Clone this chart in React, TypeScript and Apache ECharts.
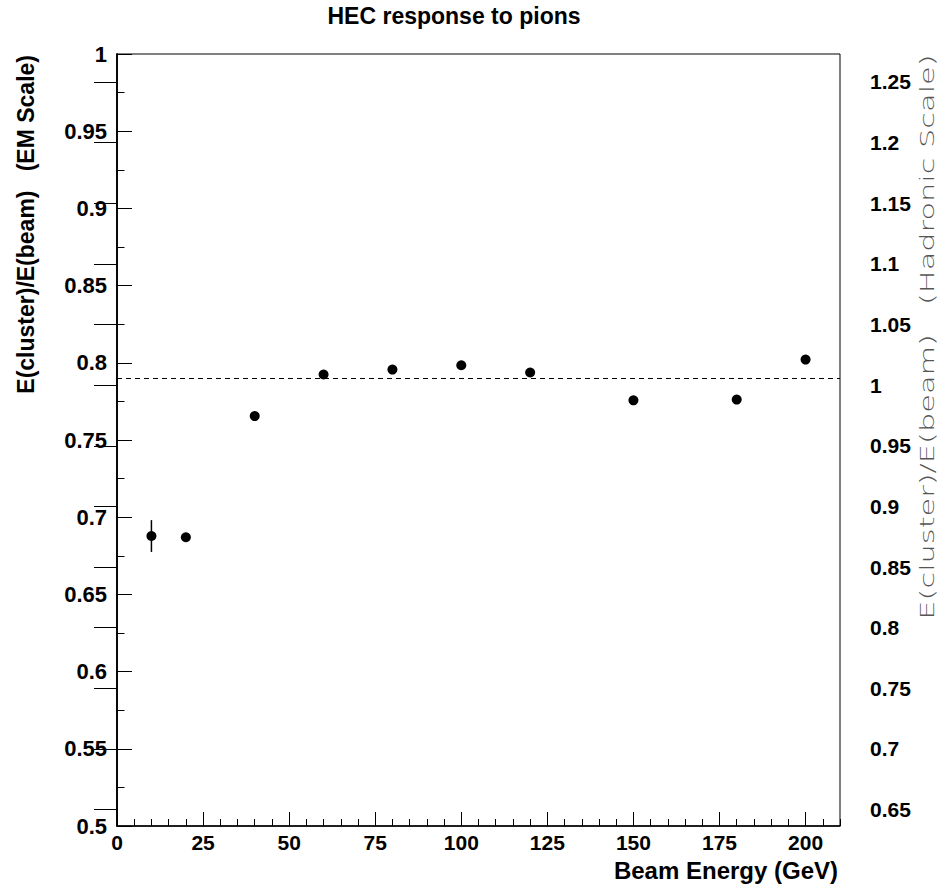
import React, { useEffect, useRef } from "react";
import * as echarts from "echarts";

const energies = [10, 20, 40, 60, 80, 100, 120, 150, 180, 200];
const response = [0.6878, 0.687, 0.7655, 0.7924, 0.7956, 0.7984, 0.7937, 0.7757, 0.7762, 0.8021];
const errors = [0.0103, 0, 0, 0, 0, 0, 0, 0, 0, 0];
const meanLevel = 0.789;
const emMin = 0.5;
const emMax = 1;
const hadronicMin = 0.6365;
const hadronicMax = 1.273;
const hadronicTicks = [0.65, 0.7, 0.75, 0.8, 0.85, 0.9, 0.95, 1, 1.05, 1.1, 1.15, 1.2, 1.25];
const xMin = 0;
const xMax = 210;

const titleText = "HEC response to pions";
const xTitle = "Beam Energy (GeV)";
const leftTitle = "E(cluster)/E(beam)   (EM Scale)";
const rightTitle = "E(cluster)/E(beam)   (Hadronic Scale)";

const FONT = "'Liberation Sans', Arial, Helvetica, sans-serif";

export default function App() {
  const ref = useRef<HTMLDivElement>(null);
  useEffect(() => {
    if (!ref.current) return;
    const chart = echarts.init(ref.current, null, { renderer: "svg" });
    const points = energies.map((x, i) => [x, response[i]]);
    const errData = energies
      .map((x, i) => [x, response[i], errors[i]])
      .filter((d) => d[2] > 0);
    chart.setOption({
      animation: false,
      backgroundColor: "#fff",
      grid: {
        left: 117,
        right: 100,
        top: 54,
        bottom: 62,
        show: true,
        borderColor: "#000",
        borderWidth: 1,
        containLabel: false,
      },
      xAxis: [
        {
          type: "value",
          min: xMin,
          max: xMax,
          interval: 25,
          position: "bottom",
          axisLine: { show: true, lineStyle: { color: "#000", width: 1.5 } },
          axisTick: { show: true, inside: true, length: 14, lineStyle: { color: "#000", width: 1 } },
          axisLabel: {
            show: true,
            margin: 6,
            color: "#000",
            fontFamily: FONT,
            fontWeight: "bold",
            fontSize: 21,
            lineHeight: 21,
            showMaxLabel: false,
            formatter: (v: number) => (v % 25 === 0 ? String(v) : ""),
          },
          splitLine: { show: false },
        },
        {
          type: "value",
          min: xMin,
          max: xMax,
          interval: 5,
          position: "bottom",
          axisLine: { show: false },
          axisTick: { show: true, inside: true, length: 7, lineStyle: { color: "#000", width: 1 } },
          axisLabel: { show: false },
          splitLine: { show: false },
        },
      ],
      yAxis: [
        {
          type: "value",
          min: emMin,
          max: emMax,
          interval: 0.05,
          position: "left",
          axisLine: { show: true, lineStyle: { color: "#000", width: 1.5 } },
          axisTick: { show: true, inside: true, length: 15, lineStyle: { color: "#000", width: 1 } },
          minorTick: { show: true, splitNumber: 2, length: 7.5, lineStyle: { color: "#000", width: 1 } },
          axisLabel: {
            margin: 10,
            color: "#000",
            fontFamily: FONT,
            fontWeight: "bold",
            fontSize: 22,
          },
          splitLine: { show: false },
        },
        {
          type: "value",
          min: hadronicMin,
          max: hadronicMax,
          position: "right",
          axisLine: { show: true, lineStyle: { color: "#000", width: 1.5 } },
          axisTick: {
            show: true,
            inside: true,
            length: 23,
            customValues: hadronicTicks,
            lineStyle: { color: "#000", width: 1 },
          },
          axisLabel: {
            margin: 30,
            color: "#000",
            fontFamily: FONT,
            fontWeight: "bold",
            fontSize: 21,
            customValues: hadronicTicks,
            formatter: (v: number) => String(Math.round(v * 100) / 100),
          },
          splitLine: { show: false },
        },
      ],
      graphic: [
        {
          type: "text",
          x: 454,
          y: 16,
          style: {
            text: titleText,
            font: `bold 23px ${FONT}`,
            fill: "#000",
            textAlign: "center",
            textVerticalAlign: "middle",
          },
        },
        {
          type: "text",
          x: 838,
          y: 870,
          style: {
            text: xTitle,
            font: `bold 24px ${FONT}`,
            fill: "#000",
            textAlign: "right",
            textVerticalAlign: "middle",
          },
        },
        {
          type: "text",
          x: 26,
          y: 55,
          rotation: Math.PI / 2,
          style: {
            text: leftTitle,
            font: `bold 23px ${FONT}`,
            fill: "#000",
            textAlign: "right",
            textVerticalAlign: "middle",
          },
        },
        {
          type: "text",
          x: 927,
          y: 337,
          rotation: Math.PI / 2,
          scaleX: 1.52,
          style: {
            text: rightTitle,
            font: `200 20px 'DejaVu Sans ExtraLight', 'DejaVu Sans', sans-serif`,
            fill: "#555",
            textAlign: "center",
            textVerticalAlign: "middle",
          },
        },
      ],
      series: [
        {
          type: "scatter",
          xAxisIndex: 0,
          yAxisIndex: 0,
          data: points,
          symbol: "circle",
          symbolSize: 10,
          itemStyle: { color: "#000", opacity: 1 },
          markLine: {
            silent: true,
            symbol: ["none", "none"],
            label: { show: false },
            lineStyle: { color: "#000", width: 1, type: [5, 4] },
            data: [{ yAxis: meanLevel }],
          },
          z: 3,
        },
        {
          type: "custom",
          xAxisIndex: 0,
          yAxisIndex: 0,
          data: errData,
          renderItem: (params: any, api: any) => {
            const x = api.value(0);
            const y = api.value(1);
            const e = api.value(2);
            const p1 = api.coord([x, y - e]);
            const p2 = api.coord([x, y + e]);
            return {
              type: "line",
              shape: { x1: p1[0], y1: p1[1], x2: p2[0], y2: p2[1] },
              style: { stroke: "#000", lineWidth: 1.5 },
            };
          },
          z: 2,
        },
      ],
    });
    return () => chart.dispose();
  }, []);
  return <div ref={ref} style={{ width: 940, height: 888, position: "absolute", left: 0, top: 0 }} />;
}
